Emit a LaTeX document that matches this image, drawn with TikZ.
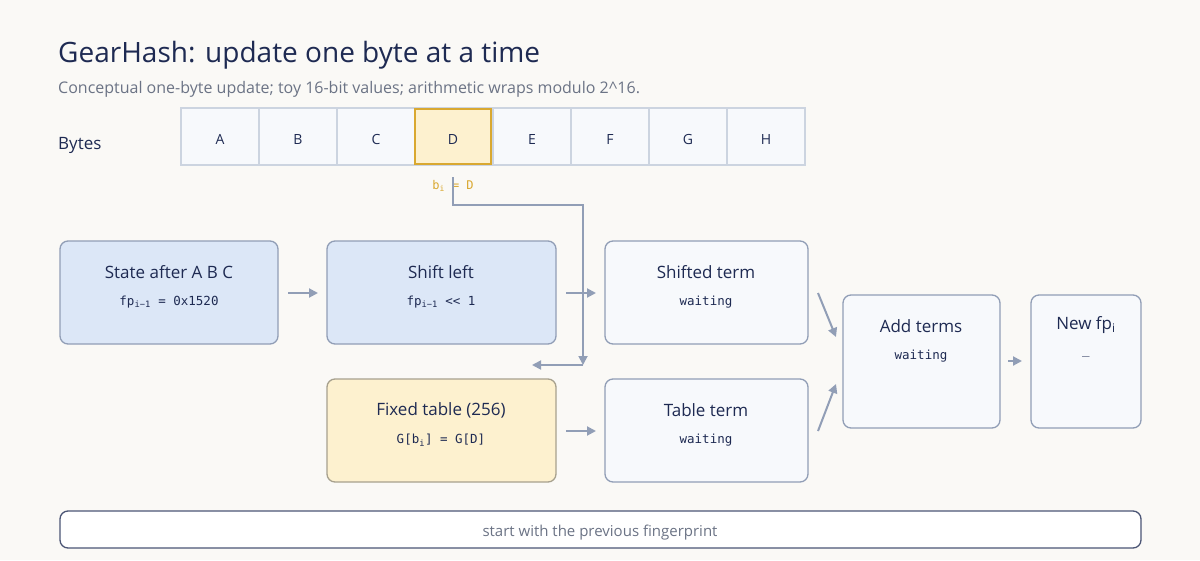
\documentclass[tikz,border=0pt]{standalone}
\usepackage{fontspec}
\setmainfont{Open Sans}
\setmonofont{DejaVu Sans Mono}
\usetikzlibrary{arrows.meta}
\definecolor{bg}{HTML}{FAF9F6}
\definecolor{ink}{HTML}{1E2A52}
\definecolor{sub}{HTML}{6B7385}
\definecolor{edge}{HTML}{919EB6}
\definecolor{bluef}{HTML}{DCE7F7}
\definecolor{palef}{HTML}{F7F9FC}
\definecolor{yelf}{HTML}{FDF1CF}
\definecolor{yeld}{HTML}{D9A830}
\definecolor{cellb}{HTML}{CCD4E0}
\begin{document}
\begin{tikzpicture}[x=1pt,y=-1pt,
 box/.style={draw=edge,line width=1.3pt,rounded corners=8pt},
 cell/.style={draw=cellb,fill=palef,line width=1.2pt},
 arr/.style={draw=edge,line width=2pt,-{Triangle[length=9pt,width=9pt]}},
 ttl/.style={font=\fontsize{17}{20}\selectfont,text=ink},
 mono/.style={font=\ttfamily\fontsize{12.5}{15}\selectfont,text=ink}]
\fill[bg] (0,0) rectangle (1200,560);
\useasboundingbox (0,0) rectangle (1200,560);
\node[anchor=base west,inner sep=0,text=ink,font=\fontsize{28}{32}\selectfont] (title) at (58,62) {GearHash: update one byte at a time};
\node[anchor=base west,inner sep=0,text=sub,font=\fontsize{16}{19}\selectfont] (subt) at (58,93) {Conceptual one-byte update; toy 16-bit values; arithmetic wraps modulo 2\^{}16.};
\node[anchor=base west,inner sep=0,text=ink,font=\fontsize{17}{20}\selectfont] (bytes) at (58,149) {Bytes};
\foreach \l [count=\i from 0] in {A,B,C,D,E,F,G,H}{
  \path[cell] (181+\i*78,108) rectangle (259+\i*78,165);
  \node[font=\fontsize{14}{16}\selectfont,text=ink] (c\l) at (220+\i*78,139) {\l};
}
\path[draw=yeld,fill=yelf,line width=2pt] (415,109) rectangle (491,164);
\node[font=\fontsize{14}{16}\selectfont,text=ink] (cD) at (453,139) {D};
\node[font=\ttfamily\fontsize{12}{14}\selectfont,text=yeld] (bi) at (453,186) {b\textsubscript{i} = D};
% boxes
\path[box,fill=bluef] (60,241) rectangle (278,344);
\node[ttl] (s1) at (169,272) {State after A B C};
\node[mono] (s1m) at (169,302) {fp\textsubscript{i−1} = 0x1520};
\path[box,fill=bluef] (327,241) rectangle (556,344);
\node[ttl] (s2) at (441,272) {Shift left};
\node[mono] (s2m) at (441,302) {fp\textsubscript{i−1} << 1};
\path[box,fill=palef] (605,241) rectangle (808,344);
\node[ttl] (s3) at (706,272) {Shifted term};
\node[mono] (s3m) at (706,302) {waiting};
\path[box,fill=yelf,draw=edge!70!yeld] (327,379) rectangle (556,482);
\node[ttl] (t1) at (441,410) {Fixed table (256)};
\node[mono] (t1m) at (441,440) {G[b\textsubscript{i}] = G[D]};
\path[box,fill=palef] (605,379) rectangle (808,482);
\node[ttl] (t2) at (706,410) {Table term};
\node[mono] (t2m) at (706,440) {waiting};
\path[box,fill=palef] (843,295) rectangle (1000,428);
\node[ttl] (a1) at (921,326) {Add terms};
\node[mono] (a1m) at (921,356) {waiting};
\path[box,fill=palef] (1031,295) rectangle (1141,428);
\node[ttl] (n1) at (1086,325) {New fp\textsubscript{i}};
\node[mono] (n1m) at (1086,356) {\_};
% connectors
\coordinate (p0) at (453,177);
\coordinate (p1) at (583,365);
\draw[arr,line width=1.8pt] (p0) |- (583,205) -- (p1);
\draw[arr,line width=1.8pt] (p1) -- (532,365);
\draw[arr] (288,293) -- (318,293);
\draw[arr] (566,293) -- (596,293);
\draw[arr] (566,431) -- (596,431);
\draw[arr] (818,293) -- (836,337);
\draw[arr] (818,431) -- (836,384);
\draw[arr] (1008,361) -- (1022,361);
\path[draw=ink!80,line width=1.3pt,rounded corners=8pt,fill=white] (60,511) rectangle (1141,548);
\node[text=sub,font=\fontsize{15}{18}\selectfont] (foot) at (600,533) {start with the previous fingerprint};
\end{tikzpicture}
\end{document}
